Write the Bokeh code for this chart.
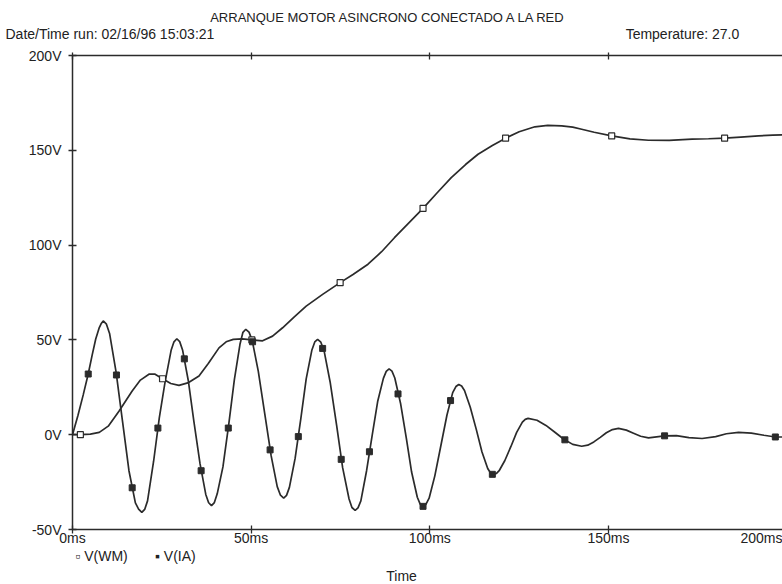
from bokeh.plotting import figure
from bokeh.models import Range1d, LinearAxis, FixedTicker, PrintfTickFormatter, Label
from bokeh.embed import file_html
from bokeh.resources import INLINE

# ---- data (time in ms, value in V) ----
wm_t = [0, 2.2, 5.0, 7.5, 10.0, 13.0, 16.7, 19.0, 21.5, 23.0, 25.2, 27.5, 29.8, 32.5, 35.4,
        38.0, 41.0, 43.0, 45.0, 47.5, 50.2, 53.2, 56.0, 58.8, 62.0, 65.4, 70.0, 74.9, 78.5,
        82.7, 86.5, 90.1, 94.0, 98.1, 102.0, 106.0, 110.0, 113.5, 117.5, 121.2, 125.0, 129.4,
        133.0, 136.9, 140.0, 142.5, 146.0, 150.9, 156.0, 161.2, 167.0, 173.4, 178.0, 182.5,
        187.0, 192.0, 196.0, 199.0]
wm_v = [0, 0, 0.3, 1.2, 4.5, 12.4, 23, 28.8, 32, 32, 29.5, 27, 26, 27.5, 31,
        37.5, 45.8, 49, 50.3, 50.5, 50, 49.5, 52, 56.4, 62, 67.8, 74, 80.2, 84.5,
        89.9, 96.5, 103.9, 111.5, 119.4, 127.5, 135.6, 142.5, 147.9, 152.5, 156.4, 159.8, 162.4,
        163.1, 162.9, 162.2, 161.1, 159.5, 157.6, 156.0, 155.3, 155.2, 155.9, 156.1, 156.4,
        157.0, 157.6, 158.0, 158.1]
wm_mark_t = [2.2, 25.2, 50.2, 74.9, 98.1, 121.2, 150.9, 182.5]
wm_mark_v = [0, 29.5, 50, 80.2, 119.4, 156.4, 157.6, 156.4]

ia_t = [0, 1.5, 3.0, 4.4, 5.5, 6.5, 7.5, 8.0, 8.6, 9.5, 10.4, 12.2, 14.0, 15.8, 17.6, 18.5, 19.4,
        20.2, 21.0, 22.7, 24.3, 25.9, 27.6, 28.4, 29.2, 30.0, 30.8, 32.4, 34.0, 35.7, 37.3, 38.1, 38.9,
        39.7, 40.5, 42.1, 43.7, 45.3, 46.9, 47.7, 48.5, 49.4, 50.3, 52.0, 53.8, 55.6, 57.3, 58.2, 59.1,
        59.9, 60.7, 62.3, 63.9, 65.4, 67.0, 67.8, 68.6, 69.5, 70.4, 72.1, 73.9, 75.6, 77.4, 78.2, 79.1,
        79.9, 80.7, 82.3, 83.9, 85.4, 87.0, 87.8, 88.6, 89.4, 90.2, 91.8, 93.4, 94.9, 96.5, 97.3, 98.1,
        98.9, 99.8, 101.4, 103.1, 104.8, 106.4, 107.3, 108.1, 108.9, 109.7, 111.3, 113.0, 114.6, 116.2,
        117.0, 117.8, 118.6, 119.4, 121.0, 122.7, 124.3, 125.9, 126.7, 127.5, 130.0, 132.5, 135.0,
        137.5, 140.0, 142.5, 144.2, 145.9, 147.7, 149.4, 151.1, 152.8, 155.0, 157.0, 159.0, 161.2,
        165.7, 169.0, 172.5, 176.2, 180.0, 183.0, 186.4, 190.0, 193.5, 196.7, 199.0]
ia_v = [0, 10, 21, 32, 42, 50.5, 56.5, 58.5, 60, 58.3, 53.2, 33, 7, -19, -36, -39.3, -41,
        -39.4, -34.9, -14, 9, 27.7, 44.5, 49, 50.6, 49.1, 44.7, 28.6, 6.6, -15.4, -31.5, -35.9, -37.4,
        -35.8, -31.2, -17, 5, 29, 48, 54.0, 55.6, 54.1, 49.6, 33.4, 11.1, -11.2, -27.4, -31.9, -33.4,
        -32, -27.8, -12.5, 8.5, 29.4, 44.7, 48.9, 50.3, 48.8, 44.3, 27.8, 5.2, -17.4, -33.9, -38.4, -39.9,
        -38.6, -34.9, -19, 0, 17.5, 29.7, 33.4, 34.7, 33.5, 29.9, 16.6, -1.6, -19.7, -33, -36.6, -37.8,
        -36.7, -33.5, -21.7, -5.7, 10.4, 22.2, 25.4, 26.5, 25.7, 23.3, 14.6, 2.8, -9.1, -17.8,
        -20.2, -21, -20.5, -19, -13.6, -6.2, 1.2, 6.6, 8.1, 8.6, 7.6, 4.9, 1.3,
        -2.4, -5.1, -6.1, -5.5, -3.8, -1.4, 1.0, 2.7, 3.3, 2.4, 0.8, -0.8, -1.7,
        -0.6, -0.5, -1.5, -2.0, -1.0, 0.5, 1.2, 0.8, -0.3, -1.2, -1.2]
ia_mark_t = [4.4, 12.3, 16.7, 23.9, 31.3, 36.0, 43.6, 50.4, 55.3, 63.2, 70.0, 75.2,
             83.1, 91.1, 98.1, 105.8, 117.5, 137.8, 165.7, 196.7]
ia_mark_v = [32, 31.5, -28, 3.5, 40, -19, 3.5, 49, -8, -1, 45.5, -13,
             -9, 21.5, -37.8, 18, -20.9, -2.7, -0.6, -1.2]

x_ticks = [0, 50, 100, 150]
x_edge_tick = 192.8          # where the clipped "200ms" label sits at the right edge
x_edge_label = "200ms"
y_ticks = [-50, 0, 50, 100, 150, 200]

title_text = "ARRANQUE MOTOR ASINCRONO CONECTADO A LA RED"
date_text = "Date/Time run: 02/16/96  15:03:21"
temp_text = "Temperature: 27.0"
x_title = "Time"
series_names = ["V(WM)", "V(IA)"]

FONT = "Liberation Sans"
INK = "#222222"
LINE = "#2b2b2b"

p = figure(width=782, height=584, x_range=Range1d(0, 198.7), y_range=Range1d(-50, 200),
           min_border_left=72, min_border_right=0, min_border_top=55, min_border_bottom=55,
           output_backend="svg", toolbar_location=None)
p.outline_line_color = None
p.xgrid.visible = False
p.ygrid.visible = False
p.background_fill_color = "white"
p.border_fill_color = "white"

def style_axis(ax, fmt):
    ax.formatter = PrintfTickFormatter(format=fmt)
    ax.axis_line_color = LINE
    ax.axis_line_width = 1.5
    ax.major_tick_line_color = LINE
    ax.major_tick_line_width = 1.3
    ax.major_tick_in = 4
    ax.major_tick_out = 4
    ax.minor_tick_line_color = None
    ax.major_label_text_font = FONT
    ax.major_label_text_font_size = "14px"
    ax.major_label_text_color = INK

# bottom axis: visible tick marks are the minor ticks, labels come from the major ticks
xa = p.xaxis[0]
style_axis(xa, "%dms")
xa.ticker = FixedTicker(ticks=x_ticks + [x_edge_tick], minor_ticks=x_ticks)
xa.major_label_overrides = {x_edge_tick: x_edge_label}
xa.major_tick_line_color = None
xa.minor_tick_line_color = LINE
xa.minor_tick_line_width = 1.3
xa.minor_tick_in = 4
xa.minor_tick_out = 4
xa.major_label_standoff = -4

ya = p.yaxis[0]
style_axis(ya, "%dV")
ya.ticker = FixedTicker(ticks=y_ticks)
ya.major_label_standoff = 7

top = LinearAxis()
style_axis(top, "%dms")
top.ticker = FixedTicker(ticks=x_ticks)
top.major_label_overrides = {t: "" for t in x_ticks}
top.major_label_standoff = 0
top.major_tick_out = 3
p.add_layout(top, "above")

p.line(wm_t, wm_v, line_color=LINE, line_width=1.7)
p.line(ia_t, ia_v, line_color=LINE, line_width=1.7)
p.scatter(wm_mark_t, wm_mark_v, marker="square", size=6, fill_color="white",
          line_color=LINE, line_width=1.2)
p.scatter(ia_mark_t, ia_mark_v, marker="square", size=6, fill_color=LINE,
          line_color=LINE, line_width=1.0)

def lab(side, x, y, text, size="14px", align="left", baseline="middle"):
    p.add_layout(Label(x=x, y=y, text=text, text_font=FONT, text_font_size=size,
                       text_align=align, text_baseline=baseline, text_color=INK), side)

lab("above", 88.4, 220.0, title_text, size="13px", align="center")
lab("above", -18.75, 211.6, date_text)
lab("above", 154.8, 211.6, temp_text)

legend_text = "\u25ab " + series_names[0] + "\u00a0" * 7 + "\u25aa " + series_names[1]
lab("below", 0.8, -64.2, legend_text)
lab("below", 92.1, -74.3, x_title, align="center")

open("out.html", "w").write(file_html(p, INLINE))
